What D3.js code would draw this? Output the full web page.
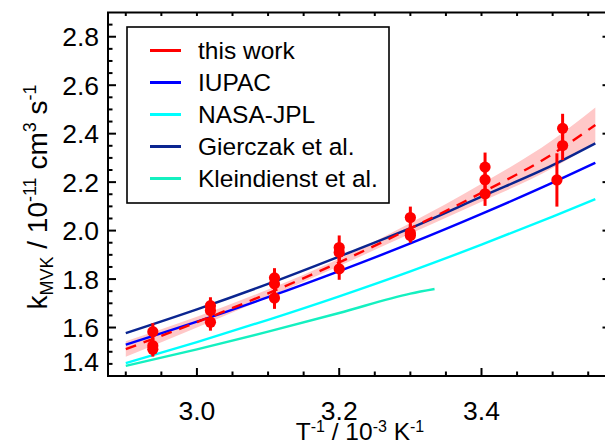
<!DOCTYPE html>
<html><head><meta charset="utf-8">
<script src="https://cdn.jsdelivr.net/npm/d3@7"></script>
<style>body{margin:0;background:#fff}svg{display:block}text{font-family:"Liberation Sans",Arial,sans-serif;fill:#000}</style>
</head><body><svg id="c" width="605" height="443"></svg>
<script>
// x positions (1/T, 10^-3 K^-1) at which the reference curves were read
const curveX = [2.9, 3.0, 3.1, 3.2, 3.3, 3.4, 3.5, 3.56];
const thisWork = [1.511, 1.622, 1.741, 1.869, 2.009, 2.156, 2.316, 2.436];
const bandLow  = [1.479, 1.600, 1.725, 1.854, 1.987, 2.119, 2.258, 2.364];
const bandHigh = [1.543, 1.644, 1.757, 1.884, 2.031, 2.193, 2.374, 2.508];
const iupac    = [1.529, 1.624, 1.725, 1.833, 1.947, 2.069, 2.198, 2.280];
const nasa     = [1.453, 1.540, 1.632, 1.729, 1.832, 1.942, 2.058, 2.130];
const gierczak = [1.577, 1.675, 1.780, 1.893, 2.010, 2.140, 2.270, 2.360];
const kleinX   = [2.9, 3.0, 3.1, 3.2, 3.3, 3.334];
const klein    = [1.442, 1.510, 1.583, 1.660, 1.740, 1.759];
// measurements: 1/T, k, error
const measX = [2.938,2.938,2.938,3.019,3.019,3.019,3.109,3.109,3.109,3.2,3.2,3.2,3.3,3.3,3.3,3.405,3.405,3.405,3.506,3.514,3.514];
const measK = [1.583,1.525,1.510,1.690,1.670,1.622,1.805,1.780,1.722,1.930,1.910,1.842,2.054,1.990,1.980,2.262,2.210,2.152,2.209,2.422,2.351];
const measE = [0.035,0.035,0.030,0.035,0.030,0.035,0.040,0.035,0.045,0.050,0.040,0.045,0.045,0.035,0.030,0.060,0.050,0.050,0.110,0.060,0.060];
const xTicks = [3.0, 3.2, 3.4];
const yTicks = [1.4, 1.6, 1.8, 2.0, 2.2, 2.4, 2.6, 2.8];
const legendNames = ["this work", "IUPAC", "NASA-JPL", "Gierczak et al.", "Kleindienst et al."];
const legendColors = ["#ff0000", "#0000ff", "#00ffff", "#0a2590", "#14f0c0"];

const svg = d3.select("#c");
const L = 108, R = 606, T = 12.5, B = 376;
const x = d3.scaleLinear().domain([2.875, 3.575]).range([L, R]);
const y = d3.scaleLinear().domain([1.4, 2.9]).range([B, T]);

// band
const band = d3.area().x((d,i)=>x(curveX[i])).y0((d,i)=>y(bandLow[i])).y1((d,i)=>y(bandHigh[i])).curve(d3.curveMonotoneX);
svg.append("path").attr("d", band(curveX)).attr("fill", "#ffc8c8");

const line = (xs, ys) => d3.line().x((d,i)=>x(xs[i])).y((d,i)=>y(ys[i])).curve(d3.curveMonotoneX)(ys);
const drawLine = (xs, ys, col, dash) => svg.append("path").attr("d", line(xs, ys)).attr("fill","none")
  .attr("stroke", col).attr("stroke-width", 2.4).attr("stroke-dasharray", dash || null);
drawLine(kleinX, klein, legendColors[4]);
drawLine(curveX, nasa, legendColors[2]);
drawLine(curveX, iupac, legendColors[1]);
drawLine(curveX, gierczak, legendColors[3]);
drawLine(curveX, thisWork, legendColors[0], "11,8");

// measurements
const g = svg.append("g");
measX.forEach((mx, i) => {
  g.append("line").attr("x1", x(mx)).attr("x2", x(mx)).attr("y1", y(measK[i]-measE[i])).attr("y2", y(measK[i]+measE[i]))
    .attr("stroke", "#ff0000").attr("stroke-width", 3);
});
measX.forEach((mx, i) => {
  g.append("circle").attr("cx", x(mx)).attr("cy", y(measK[i])).attr("r", 5.6).attr("fill", "#ff0000");
});

// axes
const ax = svg.append("g").attr("stroke", "#000").attr("stroke-width", 2);
ax.append("path").attr("fill","none").attr("d", `M${R},${T}H${L}V${B}H${R}`);
const minorX = d3.range(2.9, 3.5751, 0.05);
minorX.forEach(v => {
  const major = xTicks.some(t => Math.abs(t - v) < 1e-6);
  ax.append("line").attr("x1", x(v)).attr("x2", x(v)).attr("y1", B).attr("y2", B - (major ? 8 : 4.5));
  ax.append("line").attr("x1", x(v)).attr("x2", x(v)).attr("y1", T).attr("y2", T + 3.5);
});
const minorY = d3.range(1.45, 2.9, 0.05);
minorY.forEach(v => {
  const major = yTicks.some(t => Math.abs(t - v) < 1e-6);
  ax.append("line").attr("x1", L).attr("x2", L + (major ? 8 : 4.5)).attr("y1", y(v)).attr("y2", y(v));
  if (major) ax.append("line").attr("x1", R).attr("x2", R - 3.5).attr("y1", y(v)).attr("y2", y(v));
});
xTicks.forEach(v => svg.append("text").attr("x", x(v)).attr("y", 419.5).attr("text-anchor","middle")
  .attr("font-size", 26.5).text(v.toFixed(1)));
yTicks.forEach(v => svg.append("text").attr("x", 99).attr("y", v === 1.4 ? y(v) - 5.5 : y(v) + 9.5)
  .attr("text-anchor","end").attr("font-size", 26.5).text(v.toFixed(1)));

// axis titles
const xt = svg.append("text").attr("x", 360).attr("y", 439.5).attr("text-anchor","middle").attr("font-size", 24.5);
xt.append("tspan").text("T");
xt.append("tspan").attr("dy", -8).attr("font-size", 16).text("-1");
xt.append("tspan").attr("dy", 8).text(" / 10");
xt.append("tspan").attr("dy", -8).attr("font-size", 16).text("-3");
xt.append("tspan").attr("dy", 8).text(" K");
xt.append("tspan").attr("dy", -8).attr("font-size", 16).text("-1");

const yt = svg.append("text").attr("transform", "translate(46.5,197) rotate(-90)").attr("text-anchor","middle").attr("font-size", 28);
yt.append("tspan").text("k");
yt.append("tspan").attr("dy", 6).attr("font-size", 18).text("MVK");
yt.append("tspan").attr("dy", -6).text(" / 10");
yt.append("tspan").attr("dy", -11).attr("font-size", 18).text("-11");
yt.append("tspan").attr("dy", 11).text(" cm");
yt.append("tspan").attr("dy", -11).attr("font-size", 18).text("3");
yt.append("tspan").attr("dy", 11).text(" s");
yt.append("tspan").attr("dy", -11).attr("font-size", 18).text("-1");

// legend
const lg = svg.append("g");
lg.append("rect").attr("x", 127).attr("y", 27).attr("width", 262).attr("height", 176)
  .attr("fill", "#fff").attr("stroke", "#000").attr("stroke-width", 1.6);
legendNames.forEach((n, i) => {
  const cy = 50.5 + i * 32;
  lg.append("line").attr("x1", 150).attr("x2", 181).attr("y1", cy).attr("y2", cy)
    .attr("stroke", legendColors[i]).attr("stroke-width", 3);
  lg.append("text").attr("x", 198).attr("y", cy + 8.5).attr("font-size", 24.5).text(n);
});
</script></body></html>
